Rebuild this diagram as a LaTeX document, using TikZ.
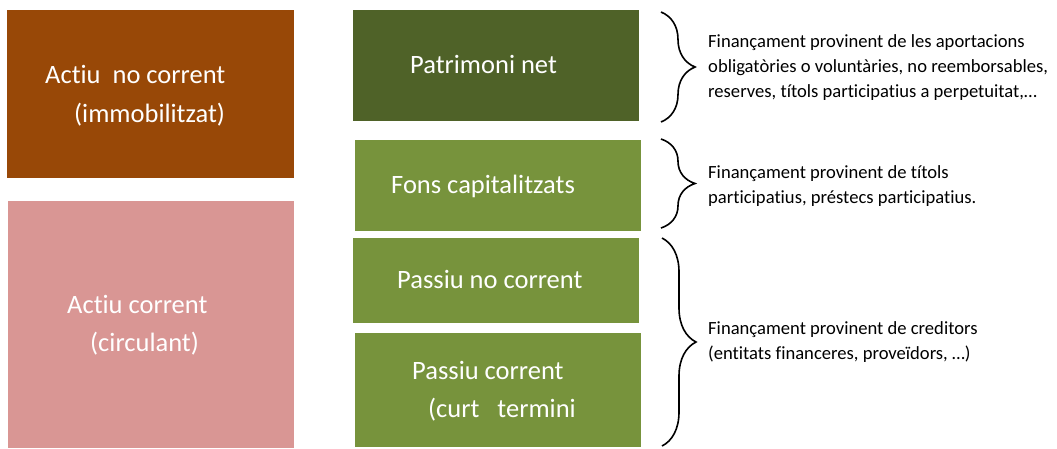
\documentclass[tikz,border=0pt]{standalone}
\usepackage{fontspec}
\setmainfont{Carlito}[Ligatures=CommonOff]
\usepackage{tikz}
\usetikzlibrary{positioning, decorations.pathreplacing}

\definecolor{marro}{HTML}{984807}
\definecolor{rosa}{HTML}{D99694}
\definecolor{verdfosc}{HTML}{4F6228}
\definecolor{verd}{HTML}{77933C}

\begin{document}
\begin{tikzpicture}[x=1pt, y=-1pt,
    bloc/.style={rectangle, inner sep=0pt, outer sep=0pt, anchor=north west},
    txtbloc/.style={anchor=base west, inner sep=0pt, text=white, font=\fontsize{26.5}{32}\selectfont},
    nota/.style={anchor=base west, inner sep=0pt, align=left, font=\fontsize{18.6}{25}\selectfont},
    clau/.style={decorate, decoration={brace, amplitude=34pt}, line width=1.6pt}]
  \useasboundingbox (0,0) rectangle (1057,448);

  % Actiu (left column)
  \node[bloc, fill=marro, minimum width=287pt, minimum height=168pt] (anc) at (7,10) {};
  \node[bloc, fill=rosa, minimum width=286pt, minimum height=247pt] (ac) at (8,201) {};
  \node[txtbloc] (anc1) at (45,83) {Actiu\ \ no corrent};
  \node[txtbloc] (anc2) at (74,122) {(immobilitzat)};
  \node[txtbloc] (ac1) at (67,313) {Actiu corrent};
  \node[txtbloc] (ac2) at (90,351) {(circulant)};

  % Patrimoni net i passiu (middle column)
  \node[bloc, fill=verdfosc, minimum width=286pt, minimum height=111pt] (pn) at (353,10) {};
  \node[bloc, fill=verd, minimum width=286pt, minimum height=91pt] (fc) at (355,140) {};
  \node[bloc, fill=verd, minimum width=286pt, minimum height=85pt] (pnc) at (353,238) {};
  \node[bloc, fill=verd, minimum width=286pt, minimum height=114pt] (pc) at (355,333) {};
  \node[txtbloc] (pn1) at (410,73) {Patrimoni net};
  \node[txtbloc] (fc1) at (391,193) {Fons capitalitzats};
  \node[txtbloc] (pnc1) at (397,288) {Passiu no corrent};
  \node[txtbloc] (pc1) at (412,379) {Passiu corrent};
  \node[txtbloc] (pc2) at (428,417) {(curt\ \ \ termini};

  % Claus
  \coordinate (c1a) at (661,12);  \coordinate (c1b) at (661,122);
  \coordinate (c2a) at (661,139); \coordinate (c2b) at (661,228);
  \coordinate (c3a) at (662,238); \coordinate (c3b) at (662,446);
  \draw[clau] (c1a) -- (c1b);
  \draw[clau] (c2a) -- (c2b);
  \draw[clau] (c3a) -- (c3b);

  % Notes (right column), base = last line
  \node[nota] (n1) at (708,97) {Finançament provinent de les aportacions\\obligatòries o voluntàries, no reemborsables,\\reserves, títols participatius a perpetuitat,…};
  \node[nota] (n2) at (708,203) {Finançament provinent de títols\\participatius, préstecs participatius.};
  \node[nota] (n3) at (708,359) {Finançament provinent de creditors\\(entitats financeres, proveïdors, …)};
\end{tikzpicture}
\end{document}
